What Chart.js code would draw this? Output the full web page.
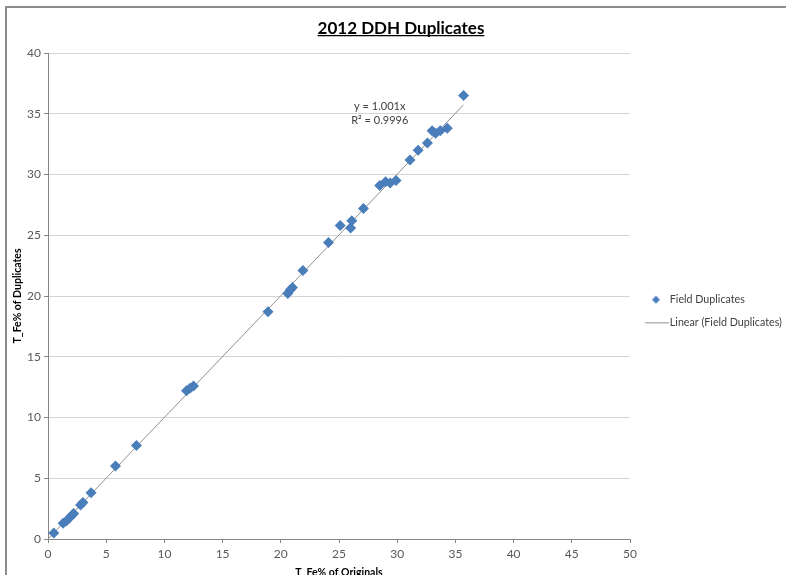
<!DOCTYPE html>
<html>
<head>
<meta charset="utf-8">
<title>2012 DDH Duplicates</title>
<script src="https://cdn.jsdelivr.net/npm/chart.js@4.4.1/dist/chart.umd.min.js"></script>
<style>
  html, body { margin: 0; padding: 0; background: #fff; overflow: hidden; }
  #wrap { position: relative; width: 786px; height: 600px; }
  #frame { position: absolute; left: 5px; top: 6px; right: -10px; bottom: -10px;
           border-top: 2px solid #8c8c8c; border-left: 2px solid #8c8c8c; }
  canvas { position: absolute; left: 0; top: 0; }
</style>
</head>
<body>
<div id="wrap">
  <div id="frame"></div>
  <canvas id="dupChart" width="786" height="600"></canvas>
</div>
<script>
// T_Fe% of originals vs duplicates
const originals  = [0.5, 1.3, 1.6, 1.9, 2.1, 2.2, 2.8, 3.0, 3.7, 5.8, 7.6, 11.9, 12.2, 12.5,
                    18.9, 20.6, 20.8, 21.0, 21.9, 24.1, 25.1, 26.0, 26.1, 27.1, 28.5, 29.0,
                    29.4, 29.9, 31.1, 31.8, 32.6, 33.0, 33.3, 33.7, 34.3, 35.7];
const duplicates = [0.5, 1.3, 1.5, 1.8, 2.0, 2.1, 2.8, 3.0, 3.8, 6.0, 7.7, 12.2, 12.4, 12.6,
                    18.7, 20.2, 20.5, 20.7, 22.1, 24.4, 25.8, 25.6, 26.2, 27.2, 29.1, 29.4,
                    29.3, 29.5, 31.2, 32.0, 32.6, 33.6, 33.4, 33.6, 33.8, 36.5];
const slope = 1.001;
const rSquared = '0.9996';
const xRange = [0, 50];
const yRange = [0, 40];
const tickStep = 5;
const eqLabelAt = [28.5, 35.6];

const seriesName = 'Field Duplicates';
const blue = '#4a7ebb';
const lineGrey = '#8f8f8f';
const fontFamily = 'Lato, "Open Sans", sans-serif';

const points = originals.map((x, i) => ({ x: x, y: duplicates[i] }));
const xMax = Math.max(...originals);
const trend = [{ x: 0, y: 0 }, { x: xMax, y: slope * xMax }];

// little legend icons so the marker and the line sit like Excel's
function makeIcon(draw) {
  const c = document.createElement('canvas');
  c.width = 40; c.height = 12;
  draw(c.getContext('2d'));
  return c;
}
const diamondIcon = makeIcon(g => {
  g.fillStyle = blue;
  g.beginPath();
  g.moveTo(22.75, 2); g.lineTo(26.75, 6); g.lineTo(22.75, 10); g.lineTo(18.75, 6);
  g.closePath(); g.fill();
});
const lineIcon = makeIcon(g => {
  g.strokeStyle = lineGrey; g.lineWidth = 1;
  g.beginPath(); g.moveTo(11.75, 6.5); g.lineTo(35.75, 6.5); g.stroke();
});

const titleUnderline = {
  id: 'titleUnderline',
  afterDraw(chart) {
    const tb = chart.titleBlock;
    const o = chart.options.plugins.title;
    const ctx = chart.ctx;
    ctx.save();
    ctx.font = 'bold ' + o.font.size + 'px ' + fontFamily;
    const w = ctx.measureText(o.text).width;
    const cx = (tb.left + tb.right) / 2;
    const y = tb.top + o.padding.top + o.font.size * 1.2 / 2 + 7.5;
    ctx.strokeStyle = '#000';
    ctx.lineWidth = 1.2;
    ctx.beginPath();
    ctx.moveTo(cx - w / 2, y);
    ctx.lineTo(cx + w / 2, y);
    ctx.stroke();
    ctx.restore();
  }
};

const trendLabel = {
  id: 'trendLabel',
  afterDatasetsDraw(chart) {
    const { ctx, scales } = chart;
    const px = scales.x.getPixelForValue(eqLabelAt[0]);
    const py = scales.y.getPixelForValue(eqLabelAt[1]);
    ctx.save();
    ctx.font = '11px ' + fontFamily;
    ctx.fillStyle = '#404040';
    ctx.textAlign = 'center';
    ctx.textBaseline = 'middle';
    ctx.fillText('y = ' + slope.toFixed(3) + 'x', px, py);
    ctx.fillText('R\u00b2 = ' + rSquared, px, py + 14);
    ctx.restore();
  }
};

new Chart(document.getElementById('dupChart'), {
  type: 'scatter',
  data: {
    datasets: [
      {
        label: seriesName,
        data: points,
        pointStyle: 'rectRot',
        pointRadius: 5.5,
        pointHoverRadius: 5.5,
        backgroundColor: blue,
        borderColor: blue,
        borderWidth: 0,
        order: 1
      },
      {
        type: 'line',
        label: 'Linear (' + seriesName + ')',
        data: trend,
        borderColor: lineGrey,
        borderWidth: 1,
        pointRadius: 0,
        fill: false,
        order: 2
      }
    ]
  },
  options: {
    responsive: false,
    animation: false,
    layout: { padding: { left: 16, right: 0, top: 0, bottom: 34 } },
    plugins: {
      title: {
        display: true,
        text: '2012 DDH Duplicates',
        color: '#000',
        font: { family: fontFamily, size: 17, weight: 'bold' },
        padding: { top: 18, bottom: 14.6 }
      },
      legend: {
        position: 'right',
        align: 'center',
        maxWidth: 156,
        // empty title only pushes the entries down to where Excel put them
        title: { display: true, text: '', font: { size: 12 }, padding: { top: 0, bottom: 41.6 } },
        labels: {
          usePointStyle: true,
          pointStyleWidth: 22.5,
          padding: 12,
          color: '#404040',
          font: { family: fontFamily, size: 10.7 },
          generateLabels(chart) {
            const items = Chart.defaults.plugins.legend.labels.generateLabels(chart);
            items[0].pointStyle = diamondIcon;
            items[1].pointStyle = lineIcon;
            return items;
          }
        }
      },
      tooltip: { enabled: false }
    },
    scales: {
      x: {
        type: 'linear',
        min: xRange[0],
        max: xRange[1],
        afterFit(scale) { scale.height = 27; },
        ticks: { stepSize: tickStep, padding: 4, color: '#595959',
                 font: { family: fontFamily, size: 12 } },
        grid: { drawOnChartArea: false, drawTicks: true, tickLength: 4, color: '#868686' },
        border: { color: '#868686', width: 1 },
        title: {
          display: true,
          text: 'T_Fe% of Originals',
          color: '#000',
          font: { family: fontFamily, size: 10.5, weight: 'bold' },
          padding: { top: 0, bottom: -13 }
        }
      },
      y: {
        type: 'linear',
        min: yRange[0],
        max: yRange[1],
        afterFit(scale) { scale.width = 32; },
        ticks: { stepSize: tickStep, padding: 3, color: '#595959',
                 font: { family: fontFamily, size: 12 } },
        grid: { color: '#d4d4d4', tickColor: '#868686', tickLength: 4 },
        border: { color: '#868686', width: 1 },
        title: {
          display: true,
          text: 'T_Fe% of Duplicates',
          color: '#000',
          font: { family: fontFamily, size: 10.5, weight: 'bold' },
          padding: { top: -4.3, bottom: 0 }
        }
      }
    }
  },
  plugins: [titleUnderline, trendLabel]
});
</script>
</body>
</html>
